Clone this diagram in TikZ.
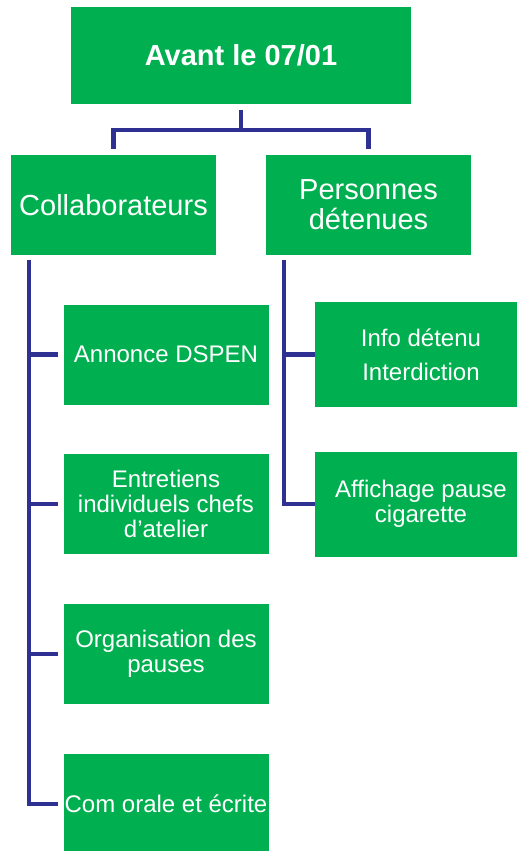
\documentclass[tikz,border=0pt]{standalone}
\usepackage{fontspec}
\setmainfont{Liberation Sans}
\definecolor{boxgreen}{HTML}{00B050}
\definecolor{linkblue}{HTML}{2E3192}
\begin{document}
\begin{tikzpicture}[x=0.75pt,y=-0.75pt,
  box/.style={fill=boxgreen, text=white, align=center, inner sep=0pt,
    minimum width=153.75pt, minimum height=75pt,
    font=\fontsize{18}{18.75}\selectfont},
  head/.style={box, font=\fontsize{21.75}{22.5}\selectfont},
  conn/.style={draw=linkblue, line width=3.2pt}]

  % Frame of the picture
  \useasboundingbox (0,0) rectangle (517,851);
  \clip (0,0) rectangle (517,851);

  % Top box
  \node[box, minimum width=255pt, minimum height=72.75pt,
    font=\bfseries\fontsize{21.75}{22.5}\selectfont] (avant) at (241,55.5) {Avant le 07/01};

  % Second level
  \node[head] (collab) at (113.5,205) {Collaborateurs};
  \node[head] (detenus) at (368.5,205) {Personnes\\détenues};

  % Collaborateurs column
  \node[box] (annonce) at (166,354.5) {Annonce DSPEN};
  \node[box] (entretiens) at (166,504) {Entretiens\\individuels chefs\\d’atelier};
  \node[box] (pauses) at (166,654) {Organisation des\\pauses};
  \node[box] (com) at (166,804) {Com orale et écrite};

  % Personnes detenues column (cut by the right edge)
  \node[box, minimum width=159pt, minimum height=78.75pt] (info) at (421,354.5) {Info détenu\\[7pt]Interdiction};
  \node[box, minimum width=159pt, minimum height=78.75pt] (affichage) at (421,504) {Affichage pause\\cigarette};

  % Connectors
  \draw[conn] ([yshift=-4.5pt]avant.south) -- ++(0,20) -| ([yshift=4.5pt]collab.north);
  \draw[conn] ([yshift=-4.5pt]avant.south) -- ++(0,20) -| ([yshift=4.5pt]detenus.north);
  \foreach \k in {annonce,entretiens,pauses,com}
    \draw[conn] ([xshift=13.5pt,yshift=-3.75pt]collab.south west) |- ([xshift=-3.75pt]\k.west);
  \foreach \k in {info,affichage}
    \draw[conn] ([xshift=13.5pt,yshift=-3.75pt]detenus.south west) |- (\k.west);

\end{tikzpicture}
\end{document}
